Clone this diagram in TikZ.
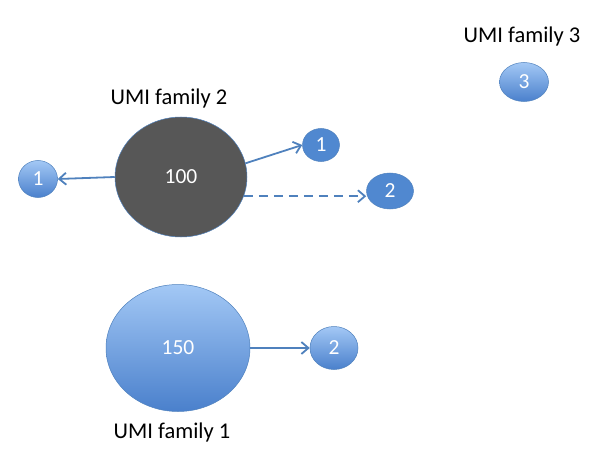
\documentclass[tikz,border=0pt]{standalone}
\usepackage{fontspec}
\setmainfont{Carlito}
\usepackage[rgb]{xcolor}
\usepackage{tikz}
\usetikzlibrary{shapes.geometric}
\usetikzlibrary{arrows.meta}
\definecolor{umiblue}{HTML}{4F81BD}
\definecolor{umisolid}{HTML}{5088D0}
\definecolor{umitop}{HTML}{A3C8F5}
\definecolor{umibottom}{HTML}{4A80CC}
\definecolor{umidark}{HTML}{575757}

\tikzset{
  umi/.style={ellipse, draw=umiblue, line width=0.5pt, inner sep=0pt,
    text=white, font=\fontsize{21.5}{24}\selectfont},
  umishade/.style={umi, top color=umitop, bottom color=umibottom},
  umiflat/.style={umi, fill=umisolid},
  umilabel/.style={font=\fontsize{22.5}{26}\selectfont},
  link/.style={draw=umiblue, line width=1.8pt, -{Straight Barb[length=7pt,width=12pt]}},
}

\begin{document}
\begin{tikzpicture}[x=1pt, y=-1pt]
  \useasboundingbox (0,0) rectangle (614,460);
  % family 2
  \node[umi, fill=umidark, minimum width=132pt, minimum height=120pt] (fam2) at (181,177) {100};
  \node[umishade, minimum width=39pt, minimum height=37pt] (fam2a) at (38,179) {1};
  \node[umiflat, minimum width=37pt, minimum height=33pt] (fam2b) at (321,145) {1};
  \node[umiflat, minimum width=47pt, minimum height=36pt] (fam2c) at (390,191) {2};
  \node[umilabel] (lab2) at (169,99) {UMI family 2};
  \draw[link] (fam2.west) -- (fam2a.east);
  \draw[link] (fam2.12) -- (fam2b.west);
  \draw[link, dash pattern=on 9pt off 6pt] (fam2.-17) -- (fam2c.west |- fam2.-17);
  % family 1
  \node[umishade, minimum width=144pt, minimum height=127pt] (fam1) at (178,348) {150};
  \node[umishade, minimum width=48pt, minimum height=43pt] (fam1a) at (334,348) {2};
  \node[umilabel] (lab1) at (172,432) {UMI family 1};
  \draw[link] (fam1.east) -- (fam1a.west);
  % family 3
  \node[umishade, minimum width=49pt, minimum height=39pt] (fam3) at (524,82) {3};
  \node[umilabel] (lab3) at (522,37) {UMI family 3};
\end{tikzpicture}
\end{document}
